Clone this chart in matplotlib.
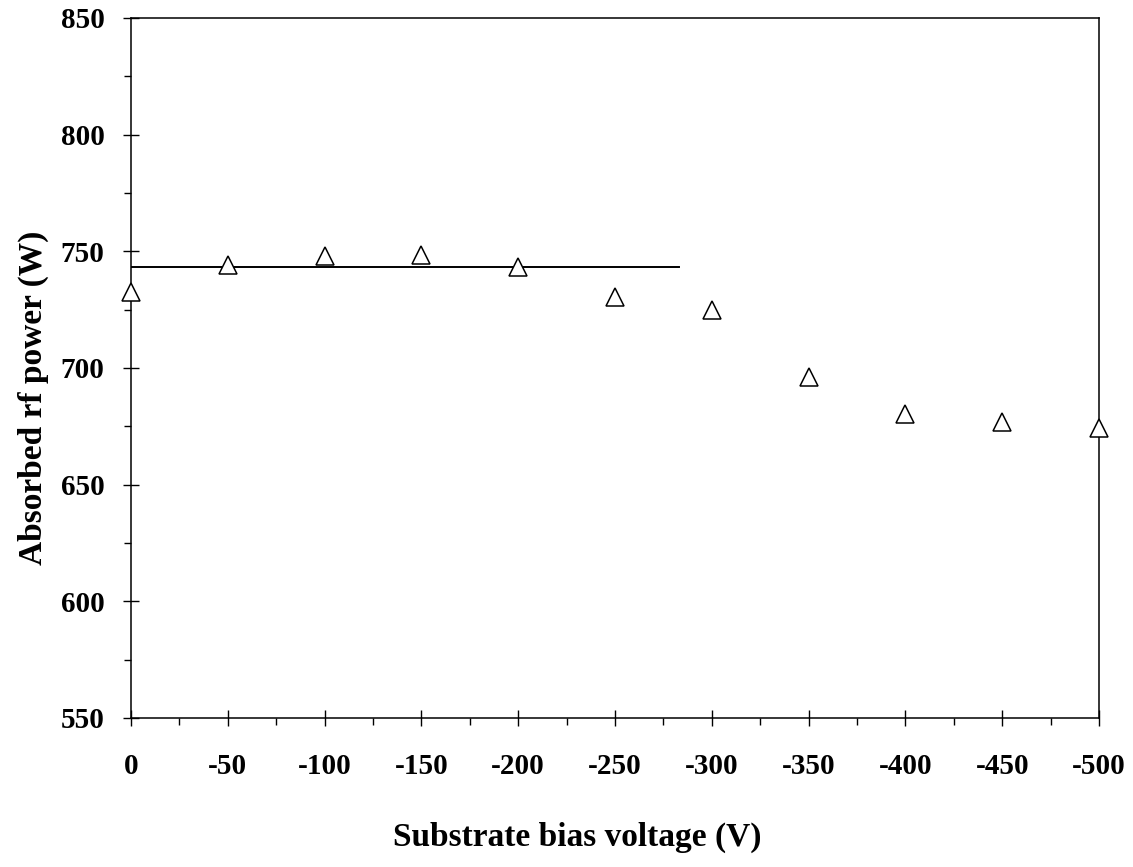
import matplotlib
matplotlib.use("Agg")
import matplotlib.pyplot as plt
from matplotlib.ticker import MultipleLocator

bias_v = [0, -50, -100, -150, -200, -250, -300, -350, -400, -450, -500]
power_w = [732.6, 744.2, 747.9, 748.6, 743.5, 730.6, 724.9, 696.0, 680.5, 677.0, 674.5]
fit_x = [0, -283]
fit_y = [743.4, 743.4]
x_ticks = [0, -50, -100, -150, -200, -250, -300, -350, -400, -450, -500]
y_ticks = [550, 600, 650, 700, 750, 800, 850]

plt.rcParams['font.family'] = ['Liberation Serif', 'DejaVu Serif']
plt.rcParams['font.weight'] = 'bold'

fig = plt.figure(figsize=(11.33, 8.67), dpi=100)
ax = fig.add_axes([131/1133, 1-718/867, 968/1133, 700/867])

ax.plot(fit_x, fit_y, color='black', lw=1.4, zorder=3)
ax.plot(bias_v, power_w, linestyle='none', marker='^', ms=13, mfc='white',
        mec='black', mew=1.1, clip_on=False, zorder=5)

ax.set_xlim(0, -500)
ax.set_ylim(550, 850)
ax.set_xticks(x_ticks)
ax.set_xticklabels([str(v) for v in x_ticks])
ax.set_yticks(y_ticks)
ax.set_yticklabels([str(v) for v in y_ticks])
ax.xaxis.set_minor_locator(MultipleLocator(25))
ax.yaxis.set_minor_locator(MultipleLocator(25))

ax.tick_params(axis='both', which='major', direction='inout', length=12, width=1.0,
               labelsize=21)
ax.tick_params(axis='x', which='major', pad=19)
ax.tick_params(axis='y', which='major', pad=13)
ax.tick_params(axis='both', which='minor', direction='out', length=5, width=1.0)
for lab in ax.get_xticklabels() + ax.get_yticklabels():
    lab.set_fontweight('bold')
for s in ax.spines.values():
    s.set_linewidth(1.1)

ax.text((577-131)/968, -(837-718)/700, 'Substrate bias voltage (V)', transform=ax.transAxes,
        ha='center', va='center', fontsize=24, fontweight='bold')
ax.text((33-131)/968, 1-(398-18)/700, 'Absorbed rf power (W)', transform=ax.transAxes,
        ha='center', va='center', rotation=90, fontsize=24, fontweight='bold')

fig.savefig('out.png', dpi=100)
